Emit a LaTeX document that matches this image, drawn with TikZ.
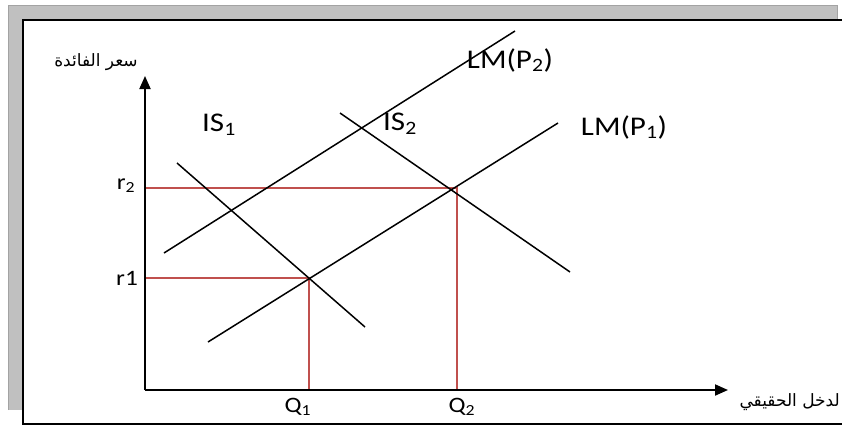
\documentclass[tikz,border=0pt]{standalone}
\usepackage{fontspec}
\setmainfont{Carlito}
\newfontfamily\arabicfont[Script=Arabic]{DejaVu Sans}
\TeXXeTstate=1
\usetikzlibrary{arrows.meta}
\definecolor{redl}{RGB}{192,80,77}
\definecolor{bggray}{RGB}{192,192,192}
\tikzset{
  curve/.style={line width=1.5pt, black},
  guide/.style={line width=1.5pt, redl},
  axis/.style={line width=1.9pt, black, -{Triangle[length=13pt,width=11pt]}},
  biglabel/.style={font=\fontsize{27}{31}\selectfont, inner sep=0pt, xscale=1.15},
  smalllabel/.style={font=\fontsize{22}{26}\selectfont, inner sep=0pt, xscale=1.15},
  arlabel/.style={font=\arabicfont\fontsize{17}{20}\selectfont, inner sep=0pt}
}
\begin{document}
\begin{tikzpicture}[x=1pt,y=-1pt]
\useasboundingbox (0,0) rectangle (842,426);
% background frame
\fill[bggray] (8,5) rectangle (837,410);
\draw[bggray!85!black, line width=0.8pt] (8,410) -- (8,5) -- (837,5) -- (837,20);
\fill[white] (23,20) rectangle (850,424);
\draw[line width=1.6pt] (850,20) -- (23,20) -- (23,424) -- (850,424);
% coordinates
\coordinate (O) at (145,390);
\coordinate (Ytop) at (145,76);
\coordinate (Xend) at (728,390);
\coordinate (IS1a) at (177,163);
\coordinate (IS1b) at (365,327);
\coordinate (IS2a) at (340,113);
\coordinate (IS2b) at (570,272);
\coordinate (LM1a) at (208,342);
\coordinate (LM1b) at (558,123);
\coordinate (LM2a) at (164,253);
\coordinate (LM2b) at (515,31);
\coordinate (R2) at (145,188);
\coordinate (E2) at (457,188);
\coordinate (Q2) at (457,390);
\coordinate (R1) at (145,278);
\coordinate (E1) at (309,278);
\coordinate (Q1) at (309,390);
% guide lines
\draw[guide] (R2) -- (E2) -- (Q2);
\draw[guide] (R1) -- (E1) -- (Q1);
% curves
\draw[curve] (IS1a) -- (IS1b);
\draw[curve] (IS2a) -- (IS2b);
\draw[curve] (LM1a) -- (LM1b);
\draw[curve] (LM2a) -- (LM2b);
% axes
\draw[axis] (O) -- (Ytop);
\draw[axis] (O) -- (Xend);
% labels
\node[biglabel] (lIS1) at (219,125) {IS\textsubscript{1}};
\node[biglabel] (lIS2) at (400,124) {IS\textsubscript{2}};
\node[biglabel] (lLM2) at (510,60) {LM(P\textsubscript{2})};
\node[biglabel] (lLM1) at (624,127) {LM(P\textsubscript{1})};
\node[smalllabel] (lr2) at (126,186) {r\textsubscript{2}};
\node[smalllabel] (lr1) at (127,278) {r1};
\node[smalllabel] (lQ1) at (298,407) {Q\textsubscript{1}};
\node[smalllabel] (lQ2) at (462,407) {Q\textsubscript{2}};
\node[arlabel] (ly) at (96,62) {\beginR سعر الفائدة\endR};
\node[arlabel, anchor=east] (lx) at (840,402) {\beginR لدخل الحقيقي\endR};
\end{tikzpicture}
\end{document}
